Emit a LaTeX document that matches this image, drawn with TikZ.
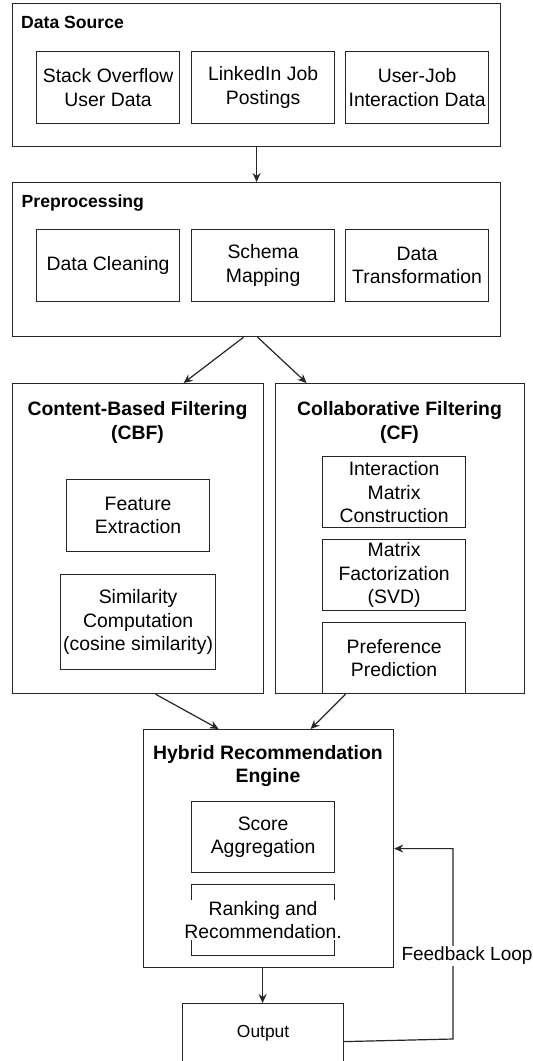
\documentclass[tikz,border=0pt]{standalone}
\usepackage{fontspec}
\setmainfont{Liberation Sans}
\usetikzlibrary{arrows.meta}
\begin{document}
\begin{tikzpicture}[x=1pt,y=-1pt,
  box/.style={draw=black!85, line width=1.2pt, inner sep=0pt, align=center,
    font=\fontsize{19.4}{23.3}\selectfont, anchor=north west,
    minimum width=143pt, minimum height=71pt},
  cont/.style={draw=black!85, line width=1.2pt, inner sep=0pt, anchor=north west},
  ttl/.style={font=\fontsize{17.6}{21}\selectfont\bfseries, inner sep=0pt},
  ttlc/.style={font=\fontsize{19.4}{23.3}\selectfont\bfseries, inner sep=0pt, align=center},
  arr/.style={draw=black!85, line width=1.2pt, -{Stealth[length=9pt,width=8pt,inset=3pt]}},
  lbl/.style={font=\fontsize{19.4}{23.3}\selectfont, fill=white, inner sep=1pt, align=center}
]
\fill[white] (0,0) rectangle (533,1061);
\clip (0,0) rectangle (533,1061);

% Data Source
\node[cont, minimum width=488pt, minimum height=143pt] (ds) at (12,3) {};
\node[ttl, anchor=base west] (dst) at (21,28) {Data Source};
\node[box, minimum height=72pt] (so) at (36,51) {Stack Overflow\\User Data};
\node[box, minimum height=72pt] (li) at (191,51) {LinkedIn Job\\Postings};
\node[box, minimum height=72pt] (uj) at (345,51) {User-Job\\Interaction Data};

% Preprocessing
\node[cont, minimum width=488pt, minimum height=154pt] (pre) at (12,182) {};
\node[ttl, anchor=base west] (pret) at (21.5,207) {Preprocessing};
\node[box, minimum height=72pt] (dc) at (36,229) {Data Cleaning};
\node[box, minimum height=72pt] (sm) at (191,229) {Schema\\Mapping};
\node[box, minimum height=72pt] (dt) at (345,229) {Data\\Transformation};

% CBF
\node[cont, minimum width=251pt, minimum height=310pt] (cbf) at (12,383) {};
\node[ttlc] (cbft) at (137.5,422.6) {Content-Based Filtering\\(CBF)};
\node[box, minimum height=72pt] (fe) at (66,479) {Feature\\Extraction};
\node[box, minimum width=155pt, minimum height=95pt] (sc) at (60,574) {Similarity\\Computation\\(cosine similarity)};

% CF
\node[cont, minimum width=249pt, minimum height=310pt] (cf) at (275,383) {};
\node[ttlc] (cft) at (399.5,422.6) {Collaborative Filtering\\(CF)};
\node[box] (imc) at (322,456) {Interaction\\Matrix\\Construction};
\node[box] (mf) at (322,539) {Matrix\\Factorization\\(SVD)};
\node[box] (pp) at (322,622) {Preference\\Prediction};

% Hybrid
\node[cont, minimum width=250pt, minimum height=238pt] (hyb) at (143,729) {};
\node[ttlc] (hybt) at (268,765.9) {Hybrid Recommendation\\Engine};
\node[box] (sa) at (191,801) {Score\\Aggregation};
\node[box] (rk) at (191,884) {};
\node[lbl] (rkt) at (rk.center) {Ranking and\\Recommendation.};

% Output
\node[cont, minimum width=161pt, minimum height=60pt, font=\fontsize{17.4}{21}\selectfont] (out) at (182,1003) {Output};

% Connectors
\draw[arr] (ds.south) -- (pre.north);
\draw[arr] ([xshift=-13pt]pre.south) -- ([xshift=45.5pt]cbf.north);
\draw[arr] ([xshift=1pt]pre.south) -- ([xshift=-93.5pt]cf.north);
\draw[arr] ([xshift=17.5pt]cbf.south) -- ([xshift=-50pt]hyb.north);
\draw[arr] ([xshift=-54.5pt]cf.south) -- ([xshift=42pt]hyb.north);
\draw[arr] ([xshift=-6pt]hyb.south) -- ([xshift=-0.5pt]out.north);
\coordinate (fbc) at (453,1039);
\draw[arr] ([yshift=-8pt]out.east) -- (fbc) |- (hyb.east);
\node[lbl, font=\fontsize{19}{23}\selectfont] (fbl) at (467,956) {Feedback Loop};
\end{tikzpicture}
\end{document}
